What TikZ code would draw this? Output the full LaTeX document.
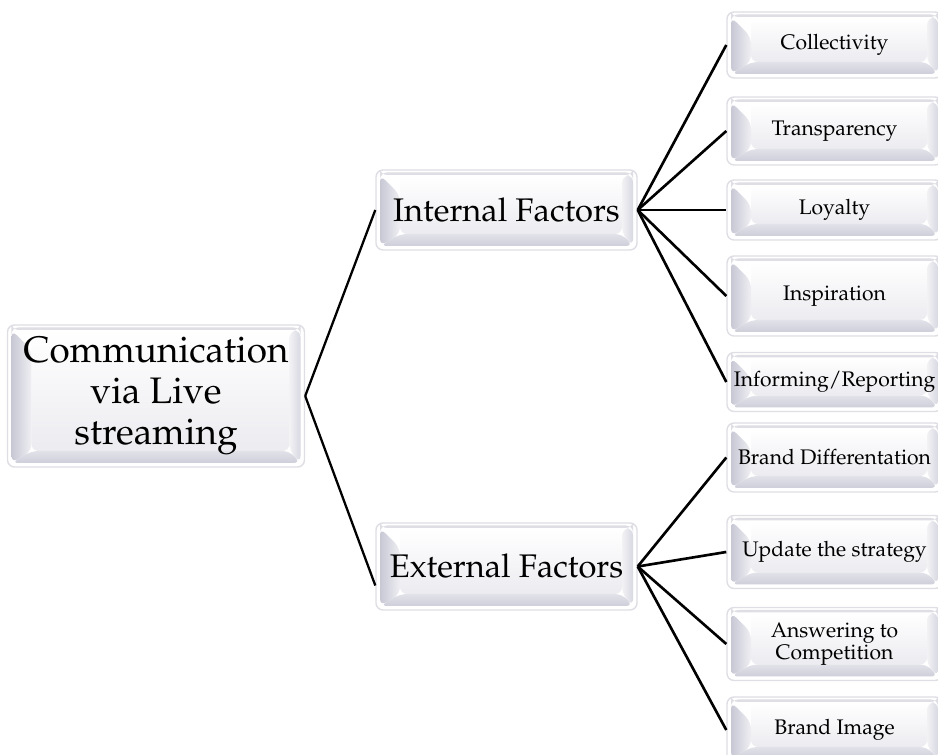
\documentclass[tikz,border=0pt]{standalone}
\usepackage[T1]{fontenc}
\usepackage{mathpazo}
\usetikzlibrary{positioning,calc}
\definecolor{bevelgray}{RGB}{190,190,206}
\definecolor{rimgray}{RGB}{222,222,228}
% faces of the bevelled button, drawn inside each box
\newcommand{\bevelfaces}{%
  \coordinate (bv-sw) at ([shift={(0.08,0.08)}]path picture bounding box.south west);
  \coordinate (bv-ne) at ([shift={(-0.08,-0.1)}]path picture bounding box.north east);
  \coordinate (bv-nw) at (bv-sw|-bv-ne);
  \coordinate (bv-se) at (bv-ne|-bv-sw);
  \coordinate (bv-isw) at ([shift={(0.4,0.24)}]bv-sw);
  \coordinate (bv-ine) at ([shift={(-0.22,-0.02)}]bv-ne);
  \coordinate (bv-inw) at ([shift={(0.4,-0.4)}]bv-nw);
  \coordinate (bv-ise) at (bv-ine|-bv-isw);
  \fill[white] (bv-sw) rectangle (bv-ne);
  \shade[top color=white,bottom color=bevelgray!30] (bv-isw) rectangle (bv-ine);
  \shade[left color=bevelgray!85,right color=bevelgray!25]
    (bv-sw) -- (bv-nw) -- (bv-inw) -- (bv-isw) -- cycle;
  \shade[top color=bevelgray!45,bottom color=bevelgray!75]
    (bv-sw) -- (bv-isw) -- (bv-ise) -- (bv-se) -- cycle;
  \shade[left color=bevelgray!20,right color=bevelgray!60]
    (bv-se) -- (bv-ise) -- (bv-ine) -- (bv-ne) -- cycle;
  \fill[rimgray] (bv-nw) rectangle ([yshift=0.05cm]bv-ne);
}
\tikzstyle{bevelbox}=[draw=rimgray,line width=0.8pt,fill=white,rounded corners=4pt,
  align=center,inner sep=2pt,path picture={\bevelfaces}]
\tikzstyle{topbox}=[bevelbox,minimum width=5.94cm,minimum height=2.84cm,
  font=\fontsize{21}{23.5}\selectfont]
\tikzstyle{midbox}=[bevelbox,minimum width=5.22cm,font=\fontsize{18.6}{20}\selectfont]
\tikzstyle{leafbox}=[bevelbox,minimum width=4.3cm,font=\fontsize{12}{11.5}\selectfont]

\begin{document}
\begin{tikzpicture}
  \useasboundingbox (0,0) rectangle (18.76,15.1);

  \node[topbox] (comm) at (3.12,7.18) {Communication\\via Live\\streaming};

  \node[midbox,minimum height=1.6cm] (int) at (10.13,10.9) {Internal Factors};
  \node[midbox,minimum height=1.74cm] (ext) at (10.13,3.77) {External Factors};

  % internal factors
  \node[leafbox,minimum height=1.32cm] (coll) at (16.69,14.2) {Collectivity};
  \node[leafbox,minimum height=1.36cm] (trans) at (16.69,12.48) {Transparency};
  \node[leafbox,minimum height=1.2cm] (loyal) at (16.69,10.9) {Loyalty};
  \node[leafbox,minimum height=1.6cm] (insp) at (16.69,9.18) {Inspiration};
  \node[leafbox,minimum height=1.18cm] (inform) at (16.69,7.46) {Informing/Reporting};

  % external factors
  \node[leafbox,minimum height=1.38cm] (bdiff) at (16.69,5.95) {Brand Differentation};
  \node[leafbox,minimum height=1.46cm] (upd) at (16.69,4.06) {Update the strategy};
  \node[leafbox,minimum height=1.46cm] (answ) at (16.69,2.22) {Answering to\\Competition};
  \node[leafbox,minimum height=1.32cm] (bimg) at (16.69,0.5) {Brand Image};

  \path[draw,line width=1.3pt]
    (comm.east) edge (int.west)
    (comm.east) edge ([yshift=-0.38cm]ext.west);

  \path[draw,line width=1.5pt]
    (int.east) edge (coll.west)
    (int.east) edge (trans.west)
    (int.east) edge (loyal.west)
    (int.east) edge (insp.west)
    (int.east) edge (inform.west)
    (ext.east) edge (bdiff.west)
    (ext.east) edge (upd.west)
    (ext.east) edge (answ.west)
    (ext.east) edge (bimg.west);
\end{tikzpicture}
\end{document}
